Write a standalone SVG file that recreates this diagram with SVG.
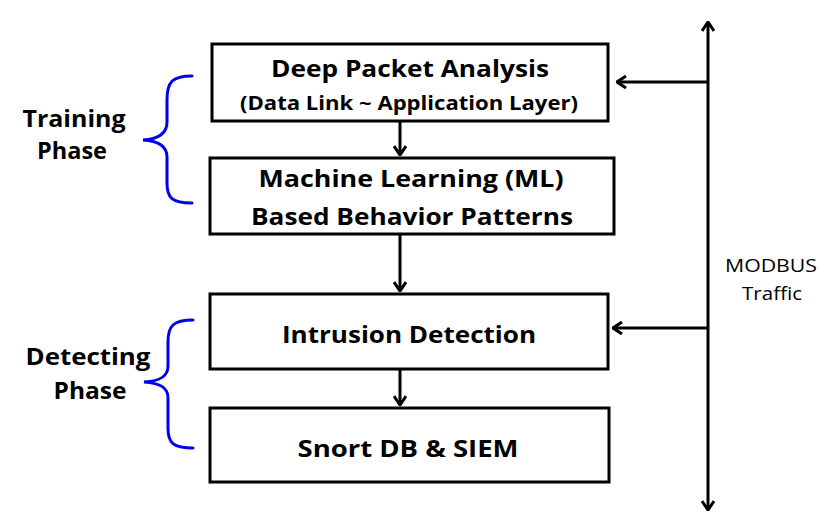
<svg xmlns="http://www.w3.org/2000/svg" width="831" height="531" viewBox="0 0 831 531">
<defs>
<style>
.box{fill:#fff;stroke:#000;stroke-width:3}
.t{font-family:"Open Sans","Liberation Sans",sans-serif;font-weight:bold;fill:#000;text-anchor:middle}
.big{font-size:24px}
.sub{font-size:19px}
.lab{font-family:"Open Sans","Liberation Sans",sans-serif;font-size:18px;fill:#000;text-anchor:middle}
.ln{stroke:#000;stroke-width:3;fill:none}
.br{stroke:#0000ee;stroke-width:3;fill:none;stroke-linecap:round}
</style>
<marker id="ah" viewBox="0 0 12 14" refX="11" refY="7" markerWidth="12" markerHeight="14" markerUnits="userSpaceOnUse" orient="auto-start-reverse">
<path d="M2,1 L11,7 L2,13" fill="none" stroke="#000" stroke-width="3" stroke-linejoin="miter"/>
</marker>
</defs>
<rect width="831" height="531" fill="#fff"/>
<g id="dpa">
<rect class="box" x="212" y="44" width="396" height="77"/>
<text class="t big" x="410" y="77" textLength="278" lengthAdjust="spacingAndGlyphs">Deep Packet Analysis</text>
<text class="t sub" x="409" y="110" textLength="338" lengthAdjust="spacingAndGlyphs">(Data Link ~ Application Layer)</text>
</g>
<g id="ml">
<rect class="box" x="210" y="158" width="404" height="76"/>
<text class="t big" x="411" y="187" textLength="305" lengthAdjust="spacingAndGlyphs">Machine Learning (ML)</text>
<text class="t big" x="412" y="225" textLength="322" lengthAdjust="spacingAndGlyphs">Based Behavior Patterns</text>
</g>
<g id="ids">
<rect class="box" x="210" y="294" width="398" height="75"/>
<text class="t big" x="409" y="343" textLength="254" lengthAdjust="spacingAndGlyphs">Intrusion Detection</text>
</g>
<g id="snort">
<rect class="box" x="210" y="408" width="399" height="74"/>
<text class="t big" x="408" y="457" textLength="221" lengthAdjust="spacingAndGlyphs">Snort DB &amp; SIEM</text>
</g>
<g id="training">
<path class="br" d="M192,76 C172,76 167,82 167,100 L167,122 C167,132 160,139 143,140 C160,141 167,147 167,157 L167,183 C167,198 172,203 192,203"/>
<text class="t big" x="74" y="127" textLength="103" lengthAdjust="spacingAndGlyphs">Training</text>
<text class="t big" x="72" y="159" textLength="70" lengthAdjust="spacingAndGlyphs">Phase</text>
</g>
<g id="detecting">
<path class="br" d="M193,320 C173,320 168,326 168,342 L168,366 C168,376 161,381 144,382 C161,383 168,388 168,398 L168,428 C168,443 173,448 193,448"/>
<text class="t big" x="88" y="365" textLength="125" lengthAdjust="spacingAndGlyphs">Detecting</text>
<text class="t big" x="90" y="399" textLength="73" lengthAdjust="spacingAndGlyphs">Phase</text>
</g>
<g id="modbus">
<text class="lab" x="771" y="272" textLength="92" lengthAdjust="spacingAndGlyphs">MODBUS</text>
<text class="lab" x="772" y="300" textLength="60" lengthAdjust="spacingAndGlyphs">Traffic</text>
</g>
<g id="connectors">
<line class="ln" x1="708" y1="22" x2="708" y2="510" marker-start="url(#ah)" marker-end="url(#ah)"/>
<line class="ln" x1="708" y1="82" x2="617" y2="82" marker-end="url(#ah)"/>
<line class="ln" x1="708" y1="328" x2="613" y2="328" marker-end="url(#ah)"/>
<line class="ln" x1="400" y1="122" x2="400" y2="155" marker-end="url(#ah)"/>
<line class="ln" x1="400" y1="235" x2="400" y2="291" marker-end="url(#ah)"/>
<line class="ln" x1="400" y1="370" x2="400" y2="405" marker-end="url(#ah)"/>
</g>
</svg>
